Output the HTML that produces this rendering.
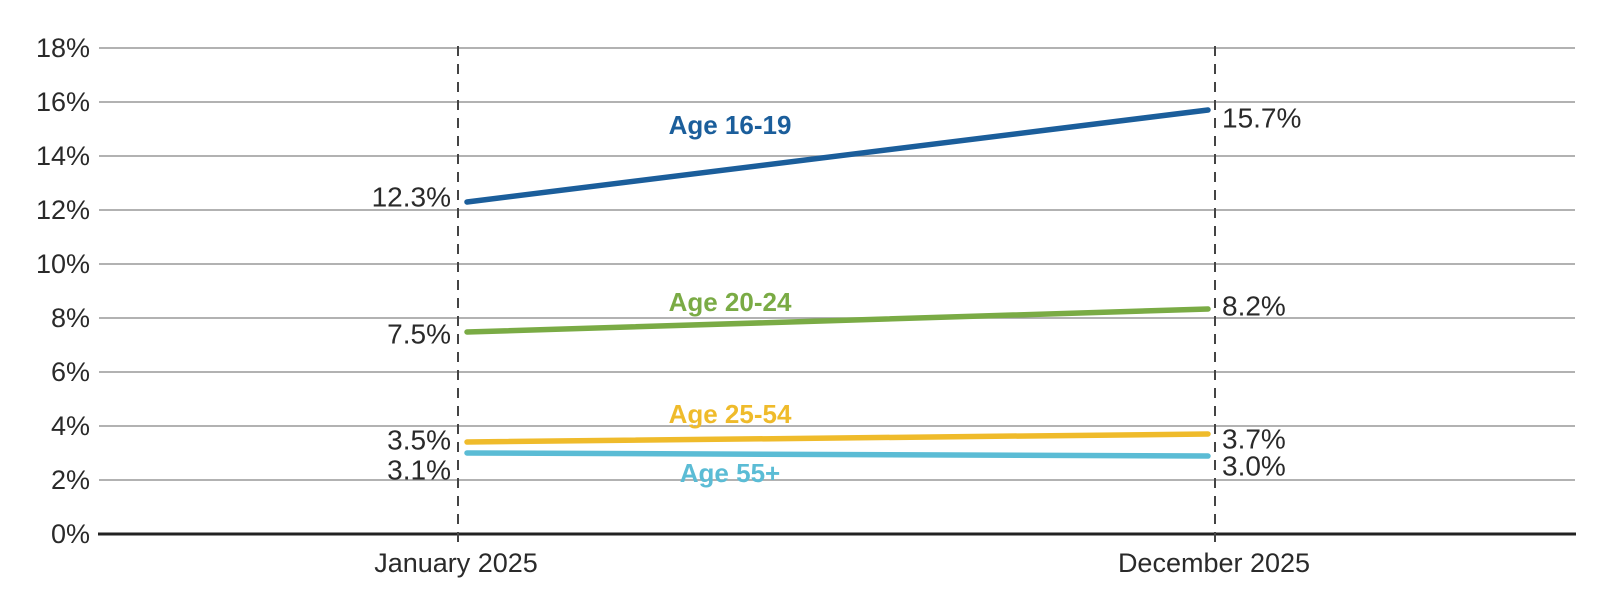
<!DOCTYPE html>
<html><head><meta charset="utf-8"><style>
html,body{margin:0;padding:0;background:#fff;}
svg{display:block;font-family:"Liberation Sans",sans-serif;}
</style></head><body>
<svg width="1600" height="593" viewBox="0 0 1600 593">
<g stroke="#999" stroke-width="1.5">
<line x1="99" x2="1575" y1="48" y2="48"/>
<line x1="99" x2="1575" y1="102" y2="102"/>
<line x1="99" x2="1575" y1="156" y2="156"/>
<line x1="99" x2="1575" y1="210" y2="210"/>
<line x1="99" x2="1575" y1="264" y2="264"/>
<line x1="99" x2="1575" y1="318" y2="318"/>
<line x1="99" x2="1575" y1="372" y2="372"/>
<line x1="99" x2="1575" y1="426" y2="426"/>
<line x1="99" x2="1575" y1="480" y2="480"/>
</g>
<line x1="98" x2="1576" y1="534" y2="534" stroke="#222" stroke-width="3"/>
<g stroke="#444" stroke-width="2" stroke-dasharray="10 8">
<line x1="458" x2="458" y1="46" y2="547"/>
<line x1="1215" x2="1215" y1="46" y2="547"/>
</g>
<g font-size="27" fill="#2a2a2a" text-anchor="end" dominant-baseline="central">
<text x="90" y="48">18%</text><text x="90" y="102">16%</text><text x="90" y="156">14%</text>
<text x="90" y="210">12%</text><text x="90" y="264">10%</text><text x="90" y="318">8%</text>
<text x="90" y="372">6%</text><text x="90" y="426">4%</text><text x="90" y="480">2%</text>
<text x="90" y="534">0%</text>
</g>
<g font-size="28" fill="#2a2a2a" text-anchor="end" dominant-baseline="central">
<text x="451" y="197">12.3%</text><text x="451" y="334">7.5%</text>
<text x="451" y="440">3.5%</text><text x="451" y="470">3.1%</text>
</g>
<g font-size="28" fill="#2a2a2a" dominant-baseline="central">
<text x="1222" y="118">15.7%</text><text x="1222" y="306">8.2%</text>
<text x="1222" y="439">3.7%</text><text x="1222" y="466">3.0%</text>
</g>
<g font-size="27" fill="#2a2a2a" text-anchor="middle" dominant-baseline="central">
<text x="456" y="563">January 2025</text><text x="1214" y="563">December 2025</text>
</g>
<g stroke-width="5.5" stroke-linecap="round" fill="none">
<line x1="467" y1="202" x2="1208" y2="110" stroke="#1b5e9b"/>
<line x1="467" y1="332" x2="1208" y2="309" stroke="#7aab45"/>
<line x1="467" y1="442" x2="1208" y2="434" stroke="#efbb2b"/>
<line x1="467" y1="453" x2="1208" y2="456" stroke="#5bbcd5"/>
</g>
<g font-size="26" font-weight="bold" text-anchor="middle" dominant-baseline="central">
<text x="730" y="125" fill="#1b5e9b">Age 16-19</text>
<text x="730" y="302" fill="#7aab45">Age 20-24</text>
<text x="730" y="414" fill="#efbb2b">Age 25-54</text>
<text x="730" y="473" fill="#5bbcd5">Age 55+</text>
</g>
</svg>
</body></html>
